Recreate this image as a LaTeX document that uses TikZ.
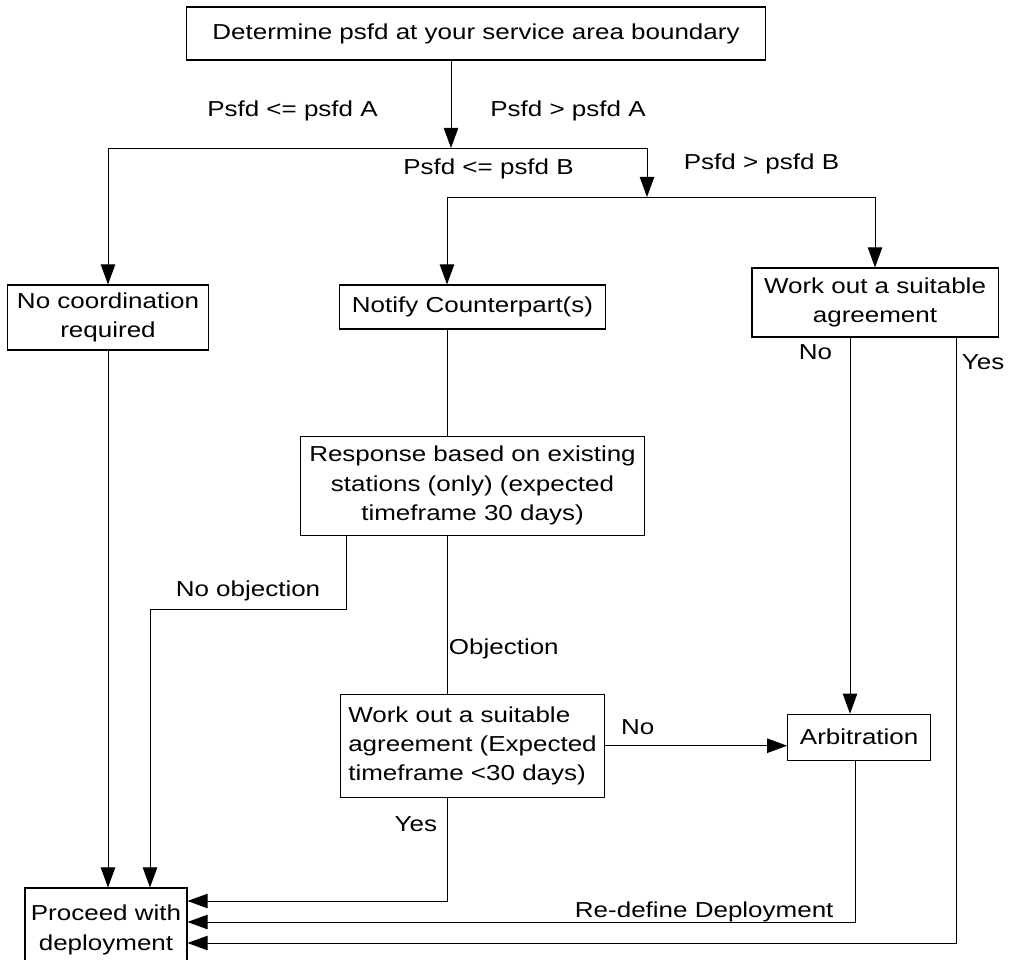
\documentclass[tikz,border=0pt]{standalone}
\usepackage{fontspec}
\setmainfont{Liberation Sans}[FakeStretch=1.2]
\usepackage{tikz}
\usetikzlibrary{arrows.meta, positioning}

\begin{document}
\begin{tikzpicture}[
        x=0.025cm, y=-0.025cm,
        font=\fontsize{15.4pt}{20.8pt}\selectfont,
        box/.style={rectangle, draw=black, line width=0.75pt, align=center, inner sep=1pt},
        lbl/.style={inner sep=1pt, text height=0.73em, text depth=0.21em},
        arrow/.style={-{Triangle[length=0.5cm, width=0.36cm]}, line width=0.7pt},
        link/.style={line width=0.7pt}
    ]
    \useasboundingbox (0,0) rectangle (1010,959);
    % boxes
    \node [box, minimum width=14.45cm, minimum height=1.325cm] (top) at (476,33.5) {Determine psfd at your service area boundary};
    \node [box, minimum width=5.025cm, minimum height=1.625cm] (nocoord) at (108,317.5) {No coordination\\required};
    \node [box, minimum width=6.625cm, minimum height=1.1cm] (notify) at (472.5,307) {Notify Counterpart(s)};
    \node [box, minimum width=6.15cm, minimum height=1.725cm] (workR) at (875,302.5) {Work out a suitable\\agreement};
    \node [box, minimum width=8.6cm, minimum height=2.475cm, below=2.65cm of notify] (resp) {Response based on existing\\stations (only) (expected\\timeframe 30 days)};
    \node [box, align=left, minimum width=6.6cm, minimum height=2.575cm, below=3.95cm of resp] (workM) {Work out a suitable\\agreement (Expected\\timeframe <30 days)};
    \node [box, minimum width=3.575cm, minimum height=1.15cm, right=4.55cm of workM, yshift=0.2125cm] (arb) {Arbitration};
    \node [box, minimum width=4.05cm, minimum height=2.1cm] (proceed) at (106,930) {Proceed with\\deployment};

    % branch labels
    \node [lbl] (lA1) at (292.5,113) {Psfd <= psfd A};
    \node [lbl] (lA2) at (568,113) {Psfd > psfd A};
    \node [lbl] (lB1) at (488.5,171) {Psfd <= psfd B};
    \node [lbl] (lB2) at (761.5,166) {Psfd > psfd B};

    % corners of the connectors
    \coordinate (splitA) at (451,148);
    \coordinate (splitB) at (647,197);
    \coordinate (spine) at (447,197);
    \coordinate (noobj) at (346,609);
    \coordinate (noobjdown) at (150,609);
    \coordinate (noR) at (850,500);
    \coordinate (yesR) at (956,943);
    \coordinate (redef) at (855,922);
    \coordinate (yesM) at (447,901);

    \draw [arrow] (splitA |- top.south) -- (splitA);
    \draw [arrow] (splitA) -| (nocoord.north);
    \draw [arrow] (splitA) -| (splitB);
    \draw [arrow] (splitB) -- (spine) -- (spine |- notify.north);
    \draw [arrow] (splitB) -| (workR.north);
    \draw [link] (spine |- notify.south) -- (spine |- resp.north);
    \draw [link] (spine |- resp.south) -- node[lbl, right, pos=0.73] (lObj) {Objection} (spine |- workM.north);
    \draw [arrow] (resp.south -| noobj) -- (noobj) -- node[lbl, above, yshift=0.2cm] (lNoObj) {No objection} (noobjdown) -- (noobjdown |- proceed.north);
    \draw [arrow] (nocoord.south) -- (nocoord.south |- proceed.north);
    \draw [arrow] (workM.east) -- node[lbl, above, pos=0.18, yshift=0.15cm] (lNoM) {No} (workM.east -| arb.west);
    \draw [arrow] (workR.south -| noR) -- node[lbl, left, pos=0.048, xshift=-0.4cm] (lNoR) {No} (arb.north -| noR);
    \draw [arrow] (workR.south -| yesR) -- node[lbl, right, pos=0.046, xshift=0.1cm] (lYesR) {Yes} (yesR) -- (yesR -| proceed.east);
    \draw [arrow] (arb.south -| redef) -- (redef) -- node[lbl, above left, pos=0, xshift=-0.49cm] (lRedef) {Re-define Deployment} (redef -| proceed.east);
    \draw [arrow] (workM.south -| yesM) -- node[lbl, left, pos=0.29, xshift=-0.2cm] (lYesM) {Yes} (yesM) -- (yesM -| proceed.east);
\end{tikzpicture}
\end{document}
